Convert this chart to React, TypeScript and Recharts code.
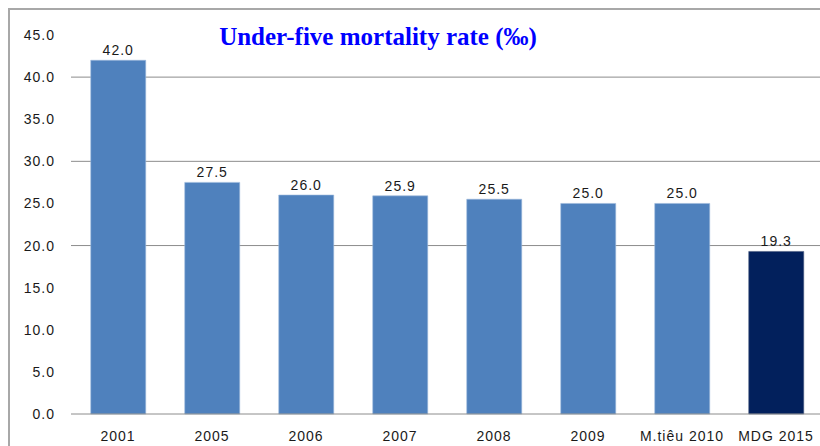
import { BarChart, Bar, XAxis, YAxis, Cell, LabelList, CartesianGrid } from "recharts";

const categories = ["2001", "2005", "2006", "2007", "2008", "2009", "M.tiêu 2010", "MDG 2015"];
const rates = [42.0, 27.5, 26.0, 25.9, 25.5, 25.0, 25.0, 19.3];
const yTicks = [0, 5, 10, 15, 20, 25, 30, 35, 40, 45];
const gridValues = [20, 30, 40];

const data = categories.map((name, i) => ({ name, rate: rates[i] }));

const axisFont = { fontFamily: "Liberation Sans, Arial, sans-serif", fontSize: 14, fill: "#1a1a1a", letterSpacing: 1 };

const App = () => {
  return (
    <div style={{ position: "absolute", left: 0, top: 0, width: 820, height: 446, overflow: "hidden", background: "#fff" }}>
      {/* frame of the original slide, cut off at right and bottom */}
      <div style={{ position: "absolute", left: 8, top: 8, width: 900, height: 500, border: "2px solid #a8a8a8", boxSizing: "border-box" }} />
      <div
        style={{
          position: "absolute",
          left: 216,
          top: 22,
          width: 324,
          textAlign: "center",
          fontFamily: "Liberation Serif, Times New Roman, serif",
          fontWeight: "bold",
          fontSize: 25,
          color: "#0000ff",
          whiteSpace: "nowrap",
          lineHeight: "30px",
        }}
      >
        Under-five mortality rate (‰)
      </div>
      <div style={{ position: "absolute", left: 0, top: 0 }}>
        <BarChart width={830} height={446} data={data} margin={{ top: 35, right: 7, bottom: 0, left: 0 }} barCategoryGap="21%">
          <CartesianGrid vertical={false} horizontalValues={gridValues} stroke="#8c8c8c" />
          <XAxis
            dataKey="name"
            height={32}
            tickLine={false}
            axisLine={{ stroke: "#8c8c8c" }}
            tick={axisFont}
            tickMargin={11}
            interval={0}
          />
          <YAxis
            width={71}
            domain={[0, 45]}
            ticks={yTicks}
            tickLine={false}
            axisLine={false}
            tick={axisFont}
            tickMargin={10}
            tickFormatter={(v: number) => v.toFixed(1)}
          />
          <Bar dataKey="rate" isAnimationActive={false} strokeWidth={0.6}>
            {data.map((d, i) => (
              <Cell key={d.name} fill={i === data.length - 1 ? "#02205c" : "#4f81bd"} stroke={i === data.length - 1 ? "#4a5a80" : "#9cb8dc"} />
            ))}
            <LabelList
              dataKey="rate"
              position="top"
              offset={5}
              formatter={(v: number) => v.toFixed(1)}
              style={{ fontFamily: "Liberation Sans, Arial, sans-serif", fontSize: 14, fill: "#1a1a1a", letterSpacing: 1 }}
            />
          </Bar>
        </BarChart>
      </div>
    </div>
  );
};

export default App;
